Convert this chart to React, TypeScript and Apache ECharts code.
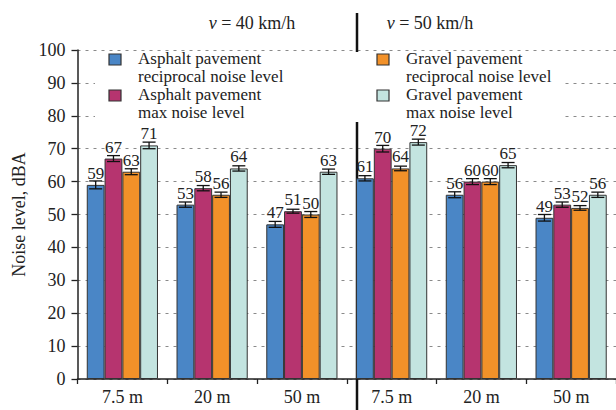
import React, { useEffect, useRef } from "react";
import * as echarts from "echarts";

// Distances from the road and vehicle speeds (km/h)
const DISTANCES = ["7.5 m", "20 m", "50 m"];
const SPEEDS = [40, 50];

// Series names (legend text)
const SERIES_NAMES = [
  "Asphalt pavement\nreciprocal noise level",
  "Asphalt pavement\nmax noise level",
  "Gravel pavement\nreciprocal noise level",
  "Gravel pavement\nmax noise level",
];

// Noise levels, dBA: 40 km/h (7.5, 20, 50 m), then 50 km/h (7.5, 20, 50 m)
const asphaltReciprocal = [59, 53, 47, 61, 56, 49];
const asphaltMax = [67, 58, 51, 70, 60, 53];
const gravelReciprocal = [63, 56, 50, 64, 60, 52];
const gravelMax = [71, 64, 63, 72, 65, 56];

// Measurement spread (± dBA)
const asphaltReciprocalErr = [1.2, 0.8, 0.9, 0.8, 0.9, 1.0];
const asphaltMaxErr = [0.9, 0.8, 0.6, 1.0, 0.9, 0.8];
const gravelReciprocalErr = [0.9, 0.8, 0.9, 0.7, 0.9, 0.7];
const gravelMaxErr = [1.0, 0.8, 0.8, 0.9, 0.8, 0.8];

const COLORS = ["#4a86c6", "#b6346f", "#f29129", "#c3e4e0"];

const FONT = '"Liberation Serif", "Times New Roman", serif';
const BAR_W = 17.8;
const CAP = 13;

export default function App() {
  const ref = useRef<HTMLDivElement>(null);

  useEffect(() => {
    if (!ref.current) return;
    const chart = echarts.init(ref.current, undefined, { renderer: "svg" });

    const values = [asphaltReciprocal, asphaltMax, gravelReciprocal, gravelMax];
    const errors = [asphaltReciprocalErr, asphaltMaxErr, gravelReciprocalErr, gravelMaxErr];
    const categories = SPEEDS.flatMap((s) => DISTANCES.map((d) => `${s}|${d}`));

    const barSeries = values.map((vals, si) => ({
      type: "bar",
      name: SERIES_NAMES[si],
      data: vals,
      barWidth: BAR_W,
      barGap: "0%",
      z: 4,
      itemStyle: { color: COLORS[si], borderColor: "#333", borderWidth: 1 },
      label: {
        show: true,
        position: "top",
        distance: 3,
        fontFamily: FONT,
        fontSize: 17,
        lineHeight: 17,
        color: "#222",
      },
    }));

    const errorSeries = values.map((vals, si) => ({
      type: "custom",
      name: SERIES_NAMES[si] + " error",
      z: 5,
      silent: true,
      data: vals.map((v, i) => [i, v, errors[si][i]]),
      encode: { x: 0, y: 1 },
      renderItem: (_params: any, api: any) => {
        const idx = api.value(0);
        const v = api.value(1);
        const e = api.value(2);
        const top = api.coord([idx, v + e]);
        const bot = api.coord([idx, v - e]);
        const x = top[0] + (si - 1.5) * BAR_W;
        const h = CAP / 2;
        const st = { stroke: "#111", lineWidth: 1.3 };
        return {
          type: "group",
          children: [
            { type: "line", shape: { x1: x, y1: top[1], x2: x, y2: bot[1] }, style: st },
            { type: "line", shape: { x1: x - h, y1: top[1], x2: x + h, y2: top[1] }, style: st },
            { type: "line", shape: { x1: x - h, y1: bot[1], x2: x + h, y2: bot[1] }, style: st },
          ],
        };
      },
    }));

    // Legend drawn as two columns of swatches with two-line captions
    const legendPos = [
      { mx: 109, my: 54, tx: 138, ty: 49.5 },
      { mx: 109, my: 90, tx: 138, ty: 85.5 },
      { mx: 377, my: 54, tx: 406, ty: 49.5 },
      { mx: 377, my: 90, tx: 406, ty: 85.5 },
    ];
    const legendItems = SERIES_NAMES.flatMap((name, si) => [
      {
        type: "rect",
        z: 30,
        shape: { x: legendPos[si].mx, y: legendPos[si].my, width: 12, height: 11 },
        style: { fill: COLORS[si], stroke: "#333", lineWidth: 1.2 },
      },
      {
        type: "text",
        z: 30,
        x: legendPos[si].tx,
        y: legendPos[si].ty,
        style: {
          text: name,
          fontFamily: FONT,
          fontSize: 17,
          lineHeight: 18,
          fill: "#222",
          align: "left",
          verticalAlign: "top",
        },
      },
    ]);

    const speedTitle = (speed: number, x: number) => ({
      type: "text",
      z: 30,
      x,
      y: 23,
      style: {
        text: `{i|v} = ${speed} km/h`,
        fontFamily: FONT,
        fontSize: 18,
        fill: "#222",
        align: "center",
        verticalAlign: "middle",
        rich: { i: { fontStyle: "italic", fontFamily: FONT, fontSize: 18, fill: "#222" } },
      },
    });

    chart.setOption({
      animation: false,
      backgroundColor: "#fff",
      grid: { left: 77.5, top: 50, width: 542, height: 329 },
      xAxis: {
        type: "category",
        data: categories,
        axisLine: { lineStyle: { color: "#222", width: 1.5 } },
        axisTick: { show: true, length: 5, lineStyle: { color: "#222", width: 1.3 } },
        axisLabel: {
          formatter: (v: string) => v.split("|")[1],
          fontFamily: FONT,
          fontSize: 18,
          color: "#222",
          margin: 9,
          interval: 0,
        },
      },
      yAxis: {
        type: "value",
        min: 0,
        max: 100,
        interval: 10,
        name: "Noise level, dBA",
        nameLocation: "middle",
        nameGap: 47,
        nameTextStyle: { fontFamily: FONT, fontSize: 18, color: "#222" },
        axisLine: { show: true, lineStyle: { color: "#222", width: 1.5 } },
        axisTick: { show: true, length: 6, lineStyle: { color: "#222", width: 1.3 } },
        axisLabel: { fontFamily: FONT, fontSize: 18, color: "#222", margin: 12 },
        splitLine: { show: true, lineStyle: { color: "#8a8a8a", type: [3, 5], width: 1 } },
      },
      graphic: [
        // speed divider
        {
          type: "line",
          z: 1,
          shape: { x1: 357, y1: 13, x2: 357, y2: 410 },
          style: { stroke: "#111", lineWidth: 2.5 },
        },
        // legend backdrop
        {
          type: "rect",
          z: 2,
          shape: { x: 95, y: 52, width: 468, height: 70 },
          style: { fill: "#fff" },
        },
        ...legendItems,
        speedTitle(SPEEDS[0], 252),
        speedTitle(SPEEDS[1], 430),
      ],
      series: [...barSeries, ...errorSeries],
    });

    return () => chart.dispose();
  }, []);

  return (
    <div
      ref={ref}
      style={{ position: "fixed", left: 0, top: 0, width: 616, height: 410 }}
    />
  );
}
